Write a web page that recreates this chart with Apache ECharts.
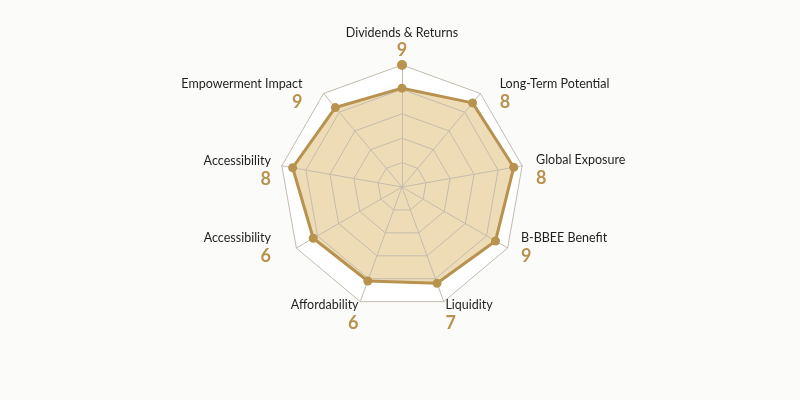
<!DOCTYPE html>
<html>
<head>
<meta charset="utf-8">
<script src="https://cdn.jsdelivr.net/npm/echarts@6/dist/echarts.min.js"></script>
<style>
html,body{margin:0;padding:0;background:#fbfbfa;}
#chart{width:800px;height:400px;}
</style>
</head>
<body>
<div id="chart"></div>
<script>
// Indicator names (clockwise from top)
var names = ['Dividends & Returns', 'Long-Term Potential', 'Global Exposure', 'B-BBEE Benefit', 'Liquidity', 'Affordability', 'Accessibility', 'Accessibility', 'Empowerment Impact'];
// Score printed under each name
var scores = [9, 8, 8, 9, 7, 6, 6, 8, 9];
// Polygon values as drawn in the picture (scale 0-10)
var plotted = [8.1, 9.0, 9.3, 8.85, 8.4, 8.2, 8.4, 9.1, 8.5];
// Lone marker on the outer ring at the first axis: [radius value, angle]
var marker = [[10, 0]];
var maxValue = 10;

// Label nudges: [extra space above, extra space below, horizontal gap], clockwise from top
var labelNudge = [
  [0, 0, 0],
  [8, 0, 16],
  [10, 0, 9],
  [0, 6, 9],
  [16, 0, 0],
  [16, 0, 0],
  [0, 6, 21],
  [12, 0, 6],
  [8, 0, 18]
];

// ECharts lays radar indicators counter-clockwise; reorder to get clockwise.
function cw(arr) { return [arr[0]].concat(arr.slice(1).reverse()); }

var indicators = cw(names.map(function (n, i) {
  return { name: n, max: maxValue, score: scores[i], pos: i };
}));
var values = cw(plotted);

var gold = '#b8934f';
var rich = {
  n: { fontFamily: 'Lato', fontSize: 12.5, color: '#1f1f1f', lineHeight: 17 },
  v: { fontFamily: 'Lato', fontSize: 18, fontWeight: 'bold', color: gold, lineHeight: 19 }
};
labelNudge.forEach(function (p, i) {
  rich['t' + i] = { fontSize: 1, lineHeight: p[0] };
  rich['b' + i] = { fontSize: 1, lineHeight: p[1] };
  rich['h' + i] = { fontSize: 1, width: p[2], lineHeight: 1 };
});

function labelFor(name, ind) {
  var i = ind.pos, p = labelNudge[i];
  var right = i >= 1 && i <= 4;     // left-aligned labels on right side
  var left = i >= 5;                // right-aligned labels on left side
  var sp = p[2] ? '{h' + i + '| }' : '';
  var l1 = '{n|' + name + '}', l2 = '{v|' + ind.score + '}';
  if (right) { l1 = sp + l1; l2 = sp + l2; }
  if (left) { l1 = l1 + sp; l2 = l2 + sp; }
  var out = [];
  if (p[0]) out.push('{t' + i + '| }');
  out.push(l1, l2);
  if (p[1]) out.push('{b' + i + '| }');
  return out.join('\n');
}

var CX = 402, CY = 187, R = 122;
var chart = echarts.init(document.getElementById('chart'));
chart.setOption({
  backgroundColor: '#fbfbfa',
  animation: false,
  radar: {
    z: 2,
    center: [CX, CY],
    radius: R,
    startAngle: 90,
    splitNumber: 5,
    shape: 'polygon',
    indicator: indicators,
    nameGap: 5,
    axisName: { formatter: labelFor, rich: rich },
    axisLine: { lineStyle: { color: '#c4bcae', width: 1 } },
    splitLine: { lineStyle: { color: '#c4bcae', width: 1 } },
    splitArea: { show: false }
  },
  polar: { center: [CX, CY], radius: R },
  angleAxis: { show: false, type: 'value', min: 0, max: 360, startAngle: 90 },
  radiusAxis: { show: false, type: 'value', min: 0, max: maxValue },
  series: [{
    type: 'radar',
    z: 0,
    silent: true,
    symbol: 'none',
    data: [{ value: indicators.map(function () { return maxValue; }), lineStyle: { width: 0 }, areaStyle: { color: '#ffffff', opacity: 1 } }]
  }, {
    type: 'radar',
    z: 1,
    symbol: 'none',
    data: [{
      value: values,
      lineStyle: { width: 0 },
      areaStyle: { color: '#eedcb6', opacity: 1 }
    }]
  }, {
    type: 'radar',
    z: 3,
    data: [{
      value: values,
      symbol: 'circle',
      symbolSize: 9,
      itemStyle: { color: gold },
      lineStyle: { color: gold, width: 3 }
    }]
  }, {
    type: 'scatter',
    coordinateSystem: 'polar',
    z: 4,
    symbolSize: 10,
    itemStyle: { color: gold, opacity: 1 },
    data: marker
  }]
});
</script>
</body>
</html>
